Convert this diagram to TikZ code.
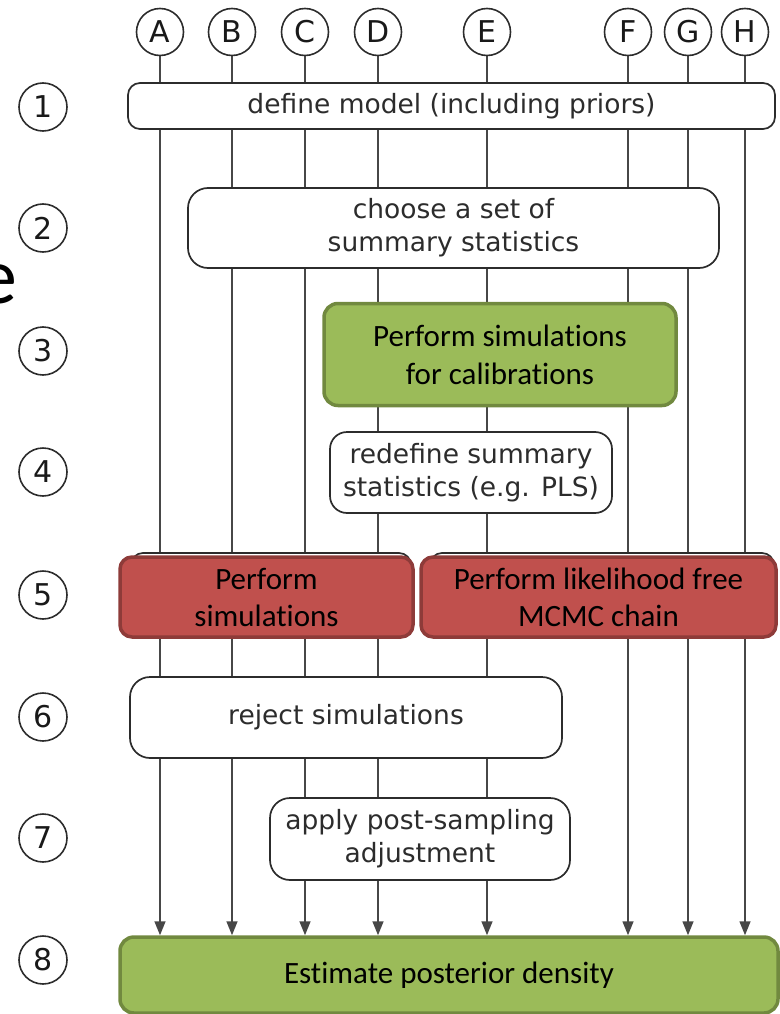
\documentclass[tikz,border=0pt]{standalone}
\usepackage{fontspec}
\newfontfamily\boxfont{DejaVu Sans}
\newfontfamily\calfont[Ligatures=NoCommon]{Carlito}
\usetikzlibrary{arrows.meta,backgrounds}

\definecolor{linegray}{HTML}{474747}
\definecolor{textgray}{HTML}{2C2C2C}
\definecolor{stepgreen}{HTML}{9BBB59}
\definecolor{stepgreenborder}{HTML}{71893F}
\definecolor{stepred}{HTML}{C0504D}
\definecolor{stepredborder}{HTML}{8E3B39}

\begin{document}
\begin{tikzpicture}[x=1pt,y=-1pt,
  plainbox/.style={draw=textgray, line width=1.7pt, fill=white, inner sep=0pt,
    align=center, text=textgray, font=\boxfont\fontsize{26.5}{33}\selectfont},
  greenbox/.style={draw=stepgreenborder, line width=3.5pt, fill=stepgreen, inner sep=0pt,
    rounded corners=14pt, align=center, text=black, font=\calfont\fontsize{31}{38}\selectfont},
  redbox/.style={draw=stepredborder, line width=3.5pt, fill=stepred, inner sep=0pt,
    rounded corners=12pt, align=center, text=black, font=\calfont\fontsize{31}{37}\selectfont},
  shadowbox/.style={draw=textgray, line width=1.7pt, fill=white, rounded corners=12pt, inner sep=0pt},
  colmark/.style={circle, draw=textgray, line width=1.6pt, minimum size=47pt, inner sep=0pt,
    text=black!90, font=\boxfont\fontsize{30}{30}\selectfont},
  rowmark/.style={circle, draw=textgray, line width=1.6pt, minimum size=48pt, inner sep=0pt,
    text=black!90, font=\boxfont\fontsize{30}{30}\selectfont},
  flow/.style={draw=linegray, line width=1.5pt},
  flowarrow/.style={flow, -{Triangle[length=14pt,width=11pt]}}
]
\useasboundingbox (0,0) rectangle (779,1014);

% left-over letter from a neighbouring title
\node[anchor=base east, inner sep=0pt, font=\calfont\fontsize{80}{80}\selectfont] (frag) at (18,303) {e};

% column markers
\foreach \n/\x in {A/160,B/232,C/305,D/378,E/487,F/628,G/688,H/745}
  \node[colmark] (c\n) at (\x,32) {\n};

% row markers
\foreach \n/\y in {1/107,2/228,3/351,4/472,5/595,6/717,7/838,8/960}
  \node[rowmark] (r\n) at (43,\y) {\n};

% step 1
\node[plainbox, rounded corners=12pt, minimum width=647pt, minimum height=46pt]
  (s1) at (451.5,106) {define model (including priors)};
% step 2
\node[plainbox, rounded corners=20pt, minimum width=531pt, minimum height=80pt]
  (s2) at (453.5,228) {choose a set of\\summary statistics};
% step 3
\node[greenbox, minimum width=352pt, minimum height=102pt]
  (s3) at (500,354.5) {Perform simulations\\for calibrations};
% step 4
\node[plainbox, rounded corners=17pt, minimum width=282pt, minimum height=81pt]
  (s4) at (471,472.5) {redefine summary\\statistics (e.g. PLS)};
% step 5: plain boxes underneath the two coloured ones
\node[shadowbox, minimum width=280pt, minimum height=80pt] (s5a) at (271,593) {};
\node[shadowbox, minimum width=344pt, minimum height=80pt] (s5b) at (602,593) {};
\node[redbox, minimum width=293pt, minimum height=80pt]
  (s5l) at (266.5,597) {Perform\\simulations};
\node[redbox, minimum width=355pt, minimum height=80pt]
  (s5r) at (598.5,597) {Perform likelihood free\\MCMC chain};
% step 6
\node[plainbox, rounded corners=20pt, minimum width=432pt, minimum height=81pt]
  (s6) at (346,717.5) {reject simulations};
% step 7
\node[plainbox, rounded corners=20pt, minimum width=300pt, minimum height=82pt]
  (s7) at (420,839) {apply post-sampling\\adjustment};
% step 8
\node[greenbox, minimum width=658pt, minimum height=76pt]
  (s8) at (449,975) {Estimate posterior density};

% one vertical flow per column, running behind the boxes
\begin{scope}[on background layer]
  \foreach \n in {A,B,C,D,E,F,G,H}
    \draw[flowarrow] (c\n.south) -- (c\n |- s8.north);
\end{scope}
\end{tikzpicture}
\end{document}
